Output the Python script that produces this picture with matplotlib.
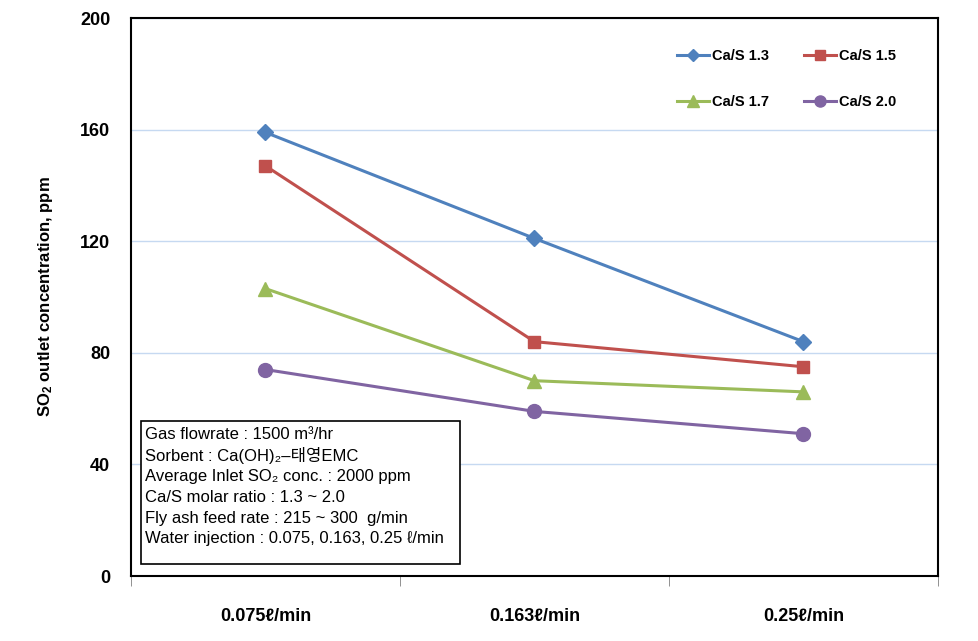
import numpy as np
import matplotlib
matplotlib.use('Agg')
from matplotlib import pyplot as plt
from matplotlib.patches import Rectangle

plt.rcParams['font.family'] = ['Liberation Sans', 'Noto Sans CJK KR', 'DejaVu Sans']
plt.rcParams['mathtext.fontset'] = 'custom'
plt.rcParams['mathtext.rm'] = 'Liberation Sans'
plt.rcParams['mathtext.bf'] = 'Liberation Sans:bold'
plt.rcParams['mathtext.default'] = 'regular'

# data
categories = ['0.075\u2113/min', '0.163\u2113/min', '0.25\u2113/min']
cas_13 = [159, 121, 84]
cas_15 = [147, 84, 75]
cas_17 = [103, 70, 66]
cas_20 = [74, 59, 51]
series_names = ['Ca/S 1.3', 'Ca/S 1.5', 'Ca/S 1.7', 'Ca/S 2.0']
y_ticks = [0, 40, 80, 120, 160, 200]
info_lines = [
    'Gas flowrate : 1500 m\u00b3/hr',
    'Sorbent : Ca(OH)\u2082\u2013\ud0dc\uc601EMC',
    'Average Inlet SO\u2082 conc. : 2000 ppm',
    'Ca/S molar ratio : 1.3 ~ 2.0',
    'Fly ash feed rate : 215 ~ 300  g/min',
    'Water injection : 0.075, 0.163, 0.25 \u2113/min',
]

colors = ['#4F81BD', '#C0504D', '#9BBB59', '#8064A2']
markers = ['D', 's', '^', 'o']
msizes = [8, 9, 10, 10]

fig = plt.figure(figsize=(9.79, 6.41), dpi=100)
ax = fig.add_axes([0.1338, 0.1014, 0.8242, 0.8705])

x = np.arange(len(categories))
lines = []
for vals, name, c, m, ms in zip([cas_13, cas_15, cas_17, cas_20], series_names, colors, markers, msizes):
    ln, = ax.plot(x, vals, color=c, marker=m, markersize=ms, linewidth=2.2, label=name, zorder=3)
    lines.append(ln)

ax.set_xlim(-0.5, len(categories) - 0.5)
ax.set_ylim(0, 200)
ax.set_yticks(y_ticks)
ax.set_yticklabels([str(v) for v in y_ticks], fontsize=13, fontweight='bold')
ax.tick_params(axis='y', length=0, pad=15)
ax.set_xticks(x)
ax.set_xticklabels(categories, fontsize=13, fontweight='bold')
ax.tick_params(axis='x', which='major', length=0, pad=23)
ax.set_xticks(np.arange(len(categories) + 1) - 0.5, minor=True)
ax.tick_params(axis='x', which='minor', length=7, color='#808080', direction='out')

ax.grid(axis='y', color='#C6D9F1', linewidth=1)
ax.set_axisbelow(True)
for s in ax.spines.values():
    s.set_linewidth(1.5)
    s.set_color('black')

ax.set_ylabel('SO$_2$ outlet concentration, ppm', fontsize=12, fontweight='bold', labelpad=18)

order = [0, 2, 1, 3]
leg = ax.legend([lines[i] for i in order], [series_names[i] for i in order], ncol=2,
                loc='upper left', bbox_to_anchor=(0.66, 0.968), frameon=False,
                prop={'weight': 'bold', 'size': 10.5}, handlelength=2.2, markerscale=0.8,
                columnspacing=2.4, labelspacing=2.2, handletextpad=0.2)

# info box
ax.add_patch(Rectangle((0.0124, 0.0215), 0.3955, 0.2565, transform=ax.transAxes,
                       facecolor='white', edgecolor='black', linewidth=1.2, zorder=4))
y0 = 0.253
for i, t in enumerate(info_lines):
    ax.text(0.0175, y0 - i * 0.0373, t, transform=ax.transAxes, fontsize=12,
            va='center', ha='left', zorder=5)

fig.savefig('out.png', dpi=100)
